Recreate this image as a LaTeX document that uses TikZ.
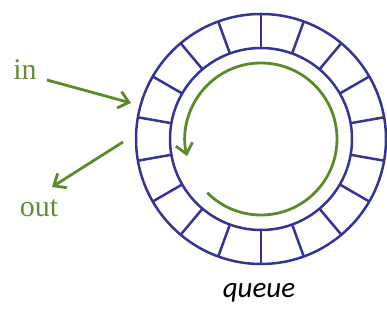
\documentclass[tikz,border=0pt]{standalone}
\usepackage{fontspec}
\setmainfont{Liberation Serif}
\newfontfamily\qfont{Carlito}
\usetikzlibrary{arrows.meta}
\definecolor{ringblue}{RGB}{52,52,150}
\definecolor{arrgreen}{RGB}{92,138,40}
\definecolor{txtgreen}{RGB}{100,140,55}
\tikzset{
  ringline/.style={draw=ringblue, line width=2.5pt},
  garrow/.style={draw=arrgreen, line width=2.8pt, -{Straight Barb[length=10pt,width=17pt,line width=2.8pt]}},
  glabel/.style={text=txtgreen, font=\fontsize{30}{30}\selectfont, inner sep=0pt},
}
\begin{document}
\begin{tikzpicture}[x=1pt,y=1pt]
\useasboundingbox (0,0) rectangle (387,320);
\coordinate (c) at (261,181);
% ring
\node[circle, ringline, minimum size=250pt, inner sep=0pt] (outer) at (c) {};
\node[circle, ringline, minimum size=182pt, inner sep=0pt] (inner) at (c) {};
\foreach \a in {10,30,...,350} {
  \draw[ringline] (c) ++(\a:91) -- ++(\a:34);
}
% circular arrow
\draw[garrow] (c) ++(225:76) arc[start angle=225, end angle=553, radius=76];
% labels
\node[glabel] (in) at (25,250) {in};
\node[glabel] (out) at (39,112) {out};
\node[inner sep=0pt, font=\qfont\itshape\fontsize{29}{29}\selectfont] (queue) at (259,27) {queue};
% in / out arrows
\coordinate (inS) at (47,240);
\coordinate (inE) at (131,217);
\coordinate (outS) at (123,178);
\coordinate (outE) at (52,133);
\draw[garrow] (inS) -- (inE);
\draw[garrow] (outS) -- (outE);
\end{tikzpicture}
\end{document}
